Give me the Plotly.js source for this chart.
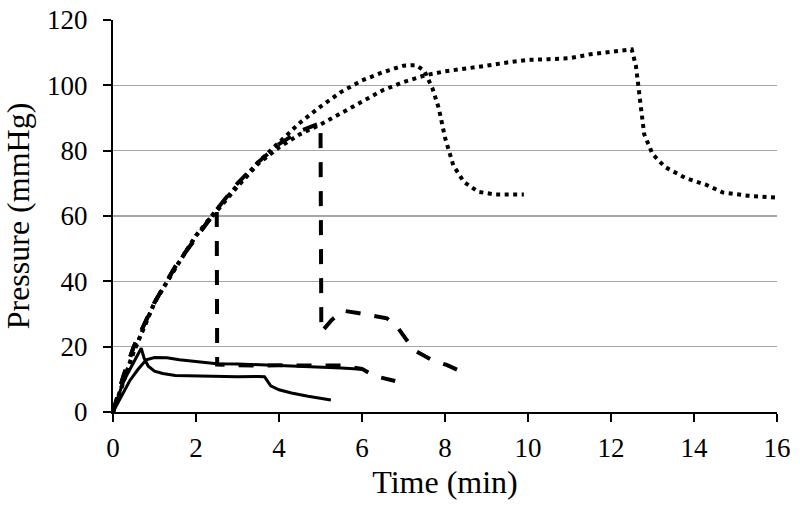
<!DOCTYPE html>
<html>
<head>
<meta charset="utf-8">
<script src="https://cdn.plot.ly/plotly-3.0.1.min.js"></script>
<style>html,body{margin:0;padding:0;background:#fff;}#chart{width:800px;height:510px;}</style>
</head>
<body>
<div id="chart"></div>
<script>
// Solid series 1 (lower)
const s1Time = [0, 0.1, 0.2, 0.3, 0.4, 0.5, 0.6, 0.68, 0.75, 0.85, 1.0, 1.2, 1.5, 2.0, 2.5, 3.0, 3.5, 3.65, 3.72, 3.8, 4.0, 4.3, 4.7, 5.0, 5.25];
const s1Pres = [0, 4, 7.5, 10.5, 13, 15.5, 17.5, 19.5, 16.5, 14, 12.5, 11.8, 11.2, 11, 10.8, 10.8, 10.9, 10.8, 9.5, 8, 6.8, 5.8, 4.8, 4.2, 3.7];
// Solid series 2 (upper)
const s2Time = [0, 0.2, 0.4, 0.6, 0.8, 1.0, 1.3, 1.6, 2.0, 2.5, 3.0, 3.5, 4.0, 4.5, 5.0, 5.5, 6.0];
const s2Pres = [0, 5, 9.5, 13, 16, 16.7, 16.6, 16, 15.5, 14.8, 14.7, 14.5, 14.3, 14, 13.8, 13.5, 13.1];
// Dashed series A (release at 2.5 min)
const dATime = [0, 0.25, 0.5, 0.75, 1.0, 1.25, 1.5, 1.75, 2.0, 2.25, 2.5, 2.51, 3.0, 3.5, 4.0, 4.5, 5.0, 5.5, 6.0, 6.3, 6.8];
const dAPres = [0, 11, 20, 27, 33.5, 39, 44.5, 49, 53.5, 58, 62, 14.5, 14.3, 14.2, 14.3, 14.3, 14.3, 14.2, 13.2, 11, 9.5];
// Dashed series B (release at 5 min)
const dBTime = [0, 0.25, 0.5, 0.75, 1, 1.25, 1.5, 1.75, 2, 2.5, 3, 3.5, 4, 4.5, 5, 5.02, 5.27, 5.55, 5.9, 6.3, 6.6, 6.85, 7.08, 7.32, 7.68, 8.04, 8.4];
const dBPres = [0, 11, 20, 27, 33.5, 39, 44.5, 49, 53.5, 62, 70, 76.5, 82, 86, 88.5, 24.5, 28.2, 31, 30.3, 29.5, 28.7, 26, 22, 18.5, 15.9, 14.4, 12.3];
// Dotted series C (release at ~7.3 min)
const pCTime = [0, 0.25, 0.5, 0.75, 1, 1.5, 2, 2.5, 3, 3.5, 4, 4.5, 5, 5.5, 6, 6.5, 7, 7.3, 7.5, 7.7, 7.85, 8.0, 8.2, 8.45, 8.8, 9.2, 9.9];
const pCPres = [0, 9.5, 18.5, 26, 33.5, 44, 54, 62, 69.5, 76.5, 82.5, 88.5, 93.5, 98, 101.5, 104, 106, 106.2, 104.5, 99, 93, 84, 75.5, 70.5, 67.4, 66.6, 66.6];
// Dotted series D (release at ~12.5 min)
const pDTime = [0, 0.25, 0.5, 0.75, 1, 1.5, 2, 2.5, 3, 3.5, 4, 4.5, 5, 5.5, 6, 6.5, 7, 7.5, 8, 8.5, 9, 9.5, 10, 10.5, 11, 11.5, 12, 12.3, 12.5, 12.6, 12.7, 12.8, 13, 13.3, 13.8, 14.3, 14.7, 15.3, 16];
const pDPres = [0, 9.5, 18.5, 26, 33.5, 44, 54, 61.5, 69, 76, 81, 85, 88, 91.5, 95, 98.5, 101, 103, 104.3, 105, 106, 107, 107.8, 108, 108.3, 109.5, 110.2, 110.8, 111, 106, 96, 85, 79, 75, 71.6, 69.5, 67.2, 66.2, 65.6];

const xTicks = [0, 2, 4, 6, 8, 10, 12, 14, 16];
const yTicks = [0, 20, 40, 60, 80, 100, 120];

const dotStyle = {color: '#000', width: 4, dash: '4px,4.5px'};
const dashStyle = {color: '#000', width: 4, dash: '15px,14px'};
const solidStyle = {color: '#000', width: 3};

const traces = [
  {x: pDTime, y: pDPres, mode: 'lines', line: dotStyle},
  {x: pCTime, y: pCPres, mode: 'lines', line: dotStyle},
  {x: dBTime, y: dBPres, mode: 'lines', line: dashStyle},
  {x: dATime, y: dAPres, mode: 'lines', line: dashStyle},
  {x: s2Time, y: s2Pres, mode: 'lines', line: solidStyle},
  {x: s1Time, y: s1Pres, mode: 'lines', line: solidStyle}
];

const font = {family: 'Liberation Serif', color: '#000'};

const layout = {
  width: 800, height: 510,
  margin: {l: 113, r: 23, t: 20, b: 98},
  paper_bgcolor: '#fff', plot_bgcolor: '#fff',
  showlegend: false,
  font: Object.assign({size: 24}, font),
  xaxis: {
    range: [0, 16], tickvals: xTicks, ticktext: xTicks.map(String),
    showgrid: false, zeroline: false,
    showline: true, linecolor: '#000', linewidth: 2,
    ticks: 'outside', ticklen: 8, tickwidth: 2, tickcolor: '#000',
    ticklabelstandoff: 3,
    tickfont: Object.assign({size: 27}, font),
    title: {text: 'Time (min)', font: Object.assign({size: 32}, font), standoff: 8}
  },
  yaxis: {
    range: [0, 120], tickvals: yTicks, ticktext: yTicks.map(String),
    showgrid: true, gridcolor: '#a6a6a6', gridwidth: 1.5,
    zeroline: false,
    showline: true, linecolor: '#000', linewidth: 2,
    ticks: 'outside', ticklen: 8, tickwidth: 2, tickcolor: '#000',
    ticklabelstandoff: 10,
    tickfont: Object.assign({size: 27}, font),
    title: {text: 'Pressure (mmHg)', font: Object.assign({size: 32}, font), standoff: 8}
  }
};

Plotly.newPlot('chart', traces, layout, {staticPlot: true, displayModeBar: false});
</script>
</body>
</html>
